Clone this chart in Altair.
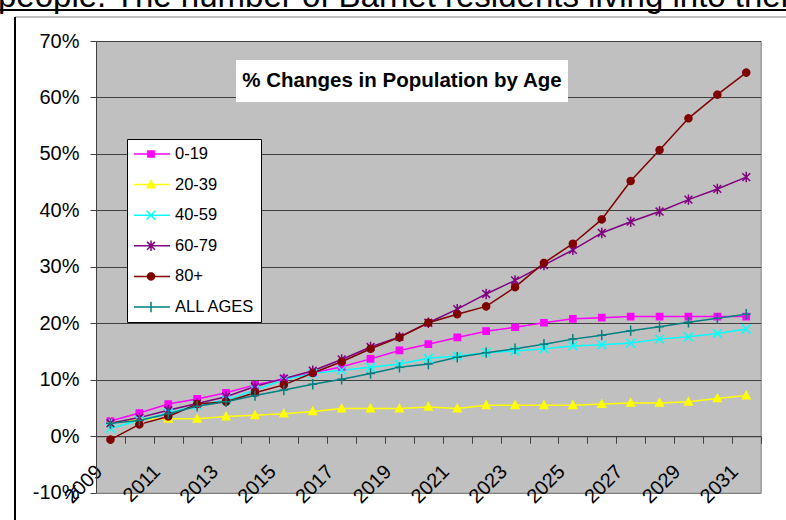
import math
import pandas as pd
import altair as alt

# ---------------- data ----------------
YEARS = list(range(2009, 2032))
SERIES = ["0-19", "20-39", "40-59", "60-79", "80+", "ALL AGES"]
COLORS = ["#FF00FF", "#FFFF00", "#00FFFF", "#800080", "#800000", "#008080"]

AGE_0_19 = [2.7, 4.1, 5.7, 6.6, 7.7, 9.1, 10.2, 11.2, 12.3, 13.7, 15.2, 16.3, 17.5,
            18.6, 19.3, 20.1, 20.8, 21.0, 21.2, 21.2, 21.2, 21.2, 21.2]
AGE_20_39 = [2.4, 3.0, 3.1, 3.1, 3.5, 3.7, 4.0, 4.4, 4.9, 4.9, 4.9, 5.2, 4.9,
             5.5, 5.5, 5.5, 5.5, 5.7, 5.9, 5.9, 6.1, 6.7, 7.2]
AGE_40_59 = [1.4, 2.8, 4.1, 5.5, 6.4, 8.2, 10.0, 11.1, 11.7, 12.2, 12.8, 13.8, 14.2,
             14.8, 15.1, 15.5, 16.0, 16.2, 16.5, 17.2, 17.6, 18.2, 19.0]
AGE_60_79 = [2.3, 3.3, 4.6, 5.8, 7.0, 8.8, 10.2, 11.6, 13.6, 15.8, 17.6, 20.1, 22.5,
             25.2, 27.6, 30.3, 33.0, 36.0, 38.0, 39.8, 41.9, 43.8, 45.9]
AGE_80_PLUS = [-0.6, 2.1, 3.5, 5.7, 6.1, 7.7, 9.1, 11.2, 13.2, 15.5, 17.5, 20.1, 21.6,
               23.0, 26.4, 30.7, 34.1, 38.4, 45.2, 50.7, 56.3, 60.5, 64.4]
ALL_AGES = [2.3, 2.8, 4.0, 5.3, 6.1, 7.2, 8.2, 9.2, 10.1, 11.1, 12.2, 12.8, 14.0,
            14.8, 15.5, 16.3, 17.2, 17.9, 18.7, 19.4, 20.2, 20.9, 21.6]

Y_TICKS = [-10, 0, 10, 20, 30, 40, 50, 60, 70]
LABEL_YEARS = [str(y) for y in YEARS[::2]]
CHART_TITLE = "% Changes in Population by Age"
PAGE_TEXT = "people. The number of Barnet residents living into their"

SERIES_VALUES = [AGE_0_19, AGE_20_39, AGE_40_59, AGE_60_79, AGE_80_PLUS, ALL_AGES]
rows = []
for name, vals in zip(SERIES, SERIES_VALUES):
    for yr, v in zip(YEARS, vals):
        rows.append({"year": str(yr), "series": name, "value": v})
df = pd.DataFrame(rows)

# ---------------- styling ----------------
FONT = "Liberation Sans"
W, H = 664.7, 451.7
LEFT, TOP = 96, 41
Y_MIN, Y_MAX = Y_TICKS[0], Y_TICKS[-1]
ZERO_OFFSET = -H * (0 - Y_MIN) / (Y_MAX - Y_MIN)


def poly(points, r, cx=0.0):
    return "M" + "L".join(f"{(x + cx) / r:.3f},{y / r:.3f}" for x, y in points) + "Z"


def seg(a, b, r, cx=0.0):
    return (f"M{(a[0] + cx) / r:.3f},{a[1] / r:.3f}"
            f"L{(b[0] + cx) / r:.3f},{b[1] / r:.3f}")


def marker(kind, r, cx=0.0):
    if kind == "square":
        h = 3.1
        return poly([(-h, -h), (h, -h), (h, h), (-h, h)], r, cx)
    if kind == "triangle":
        return poly([(0, -4.0), (3.8, 3.2), (-3.8, 3.2)], r, cx)
    if kind == "x":
        h = 4.4
        return seg((-h, -h), (h, h), r, cx) + seg((-h, h), (h, -h), r, cx)
    if kind == "star":
        h = 3.9
        return (seg((-h, -h), (h, h), r, cx) + seg((-h, h), (h, -h), r, cx)
                + seg((0, -5.2), (0, 5.2), r, cx))
    if kind == "circle":
        rr = 3.5
        pts = [(rr * math.cos(2 * math.pi * k / 20), rr * math.sin(2 * math.pi * k / 20))
               for k in range(20)]
        return poly(pts, r, cx)
    # plus
    return seg((-4.4, 0), (4.4, 0), r, cx) + seg((0, -5.2), (0, 5.2), r, cx)


KINDS = ["square", "triangle", "x", "star", "circle", "plus"]
PLOT_SHAPES = [marker(k, 5) for k in KINDS]                       # size 100 -> 5px/unit
LEGEND_SHAPES = [seg((-8, 0), (28, 0), 8) + marker(k, 8, cx=9) for k in KINDS]  # size 256

x_scale = alt.Scale(type="band", domain=[str(y) for y in YEARS], paddingInner=0, paddingOuter=0)
y_scale = alt.Scale(domain=[Y_MIN, Y_MAX], nice=False, zero=False)
color = alt.Color("series:N", scale=alt.Scale(domain=SERIES, range=COLORS), legend=None)

y_axis = alt.Axis(
    values=Y_TICKS, title=None, grid=True,
    gridColor={"condition": {"test": "datum.value === -10", "value": "#808080"}, "value": "#404040"},
    gridWidth=1, tickSize=6, tickColor="#404040", domainColor="#404040",
    labelExpr="datum.value + '%'", labelFont=FONT, labelFontSize=20, labelColor="black",
    labelPadding=11,
)
y_enc = alt.Y("value:Q", scale=y_scale, axis=y_axis)

zero_axis = alt.Axis(
    orient="bottom", offset=ZERO_OFFSET, title=None, labels=False, grid=False,
    domain=True, domainColor="#404040", domainWidth=1,
    ticks=True, tickBand="extent", tickSize=7, tickColor="#404040", tickWidth=1,
)
label_axis = alt.Axis(
    orient="bottom", values=LABEL_YEARS, title=None, grid=False, domain=False,
    ticks=False, tickSize=0, labelAngle=-45, labelAlign="right", labelBaseline="middle",
    labelOffset=-11, labelPadding=-24.5, labelFont=FONT, labelFontSize=20,
    labelColor="black", labelOverlap=False, labelFlush=False,
)

base = alt.Chart(df)

lines = base.mark_line(strokeWidth=1.5).encode(
    x=alt.X("year:O", scale=x_scale, bandPosition=0.5, axis=zero_axis),
    y=y_enc, color=color,
)

points = base.mark_point(filled=False, opacity=1, strokeWidth=1.5, size=100).encode(
    x=alt.X("year:O", scale=x_scale, bandPosition=0.5, axis=label_axis),
    y=y_enc, color=color,
    fill=alt.Fill("series:N", scale=alt.Scale(domain=SERIES, range=COLORS), legend=None),
    shape=alt.Shape("series:N", scale=alt.Scale(domain=SERIES, range=PLOT_SHAPES), legend=None),
)

legend = alt.Legend(
    orient="none", legendX=31, legendY=98, title=None,
    fillColor="white", strokeColor="black", padding=6,
    symbolSize=256, symbolStrokeWidth=1.5, symbolOpacity=1,
    labelFont=FONT, labelFontSize=16.5, labelColor="black", labelOffset=24,
    rowPadding=12.6,
)
legend_layer = base.mark_point(filled=True, opacity=0, size=1).encode(
    x=alt.X("year:O", scale=x_scale, bandPosition=0.5, axis=None),
    y=y_enc,
    fill=alt.Fill("series:N", scale=alt.Scale(domain=SERIES, range=COLORS), legend=legend),
    stroke=alt.Stroke("series:N", scale=alt.Scale(domain=SERIES, range=COLORS), legend=legend),
    shape=alt.Shape("series:N", scale=alt.Scale(domain=SERIES, range=LEGEND_SHAPES), legend=legend),
)

one = alt.Chart(pd.DataFrame({"t": [PAGE_TEXT], "c": [CHART_TITLE]}))

page_text = one.mark_text(align="left", baseline="alphabetic", font=FONT, fontSize=33,
                          color="black").encode(
    x=alt.value(-2 - LEFT), y=alt.value(7 - TOP), text="t:N")
black_line = one.mark_rule(color="black", strokeWidth=2).encode(
    x=alt.value(-LEFT), x2=alt.value(786 - LEFT), y=alt.value(10 - TOP))
gray_line = one.mark_rule(color="#808080", strokeWidth=1).encode(
    x=alt.value(15 - LEFT), x2=alt.value(786 - LEFT), y=alt.value(17 - TOP))
left_line = one.mark_rule(color="black", strokeWidth=2).encode(
    x=alt.value(15 - LEFT), y=alt.value(17 - TOP), y2=alt.value(520 - TOP))

title_box = one.mark_rect(fill="white").encode(
    x=alt.value(236 - LEFT), x2=alt.value(568 - LEFT),
    y=alt.value(60 - TOP), y2=alt.value(102 - TOP))
title_text = one.mark_text(align="center", baseline="middle", font=FONT, fontSize=20.5,
                           fontWeight="bold", color="black").encode(
    x=alt.value(402 - LEFT), y=alt.value(81 - TOP), text="c:N")

chart = alt.layer(
    lines, points, legend_layer, title_box, title_text,
    page_text, black_line, gray_line, left_line,
).resolve_scale(
    shape="independent", fill="independent", stroke="independent"
).resolve_axis(
    x="independent"
).properties(
    width=W, height=H,
    autosize=alt.AutoSizeParams(type="none"),
    padding={"left": LEFT, "top": TOP, "right": 786 - LEFT - W, "bottom": 520 - TOP - H},
).configure_view(
    fill="#C0C0C0", stroke="#808080", strokeWidth=1
)

chart.save("out.html", embed_options={"renderer": "svg", "actions": False})
